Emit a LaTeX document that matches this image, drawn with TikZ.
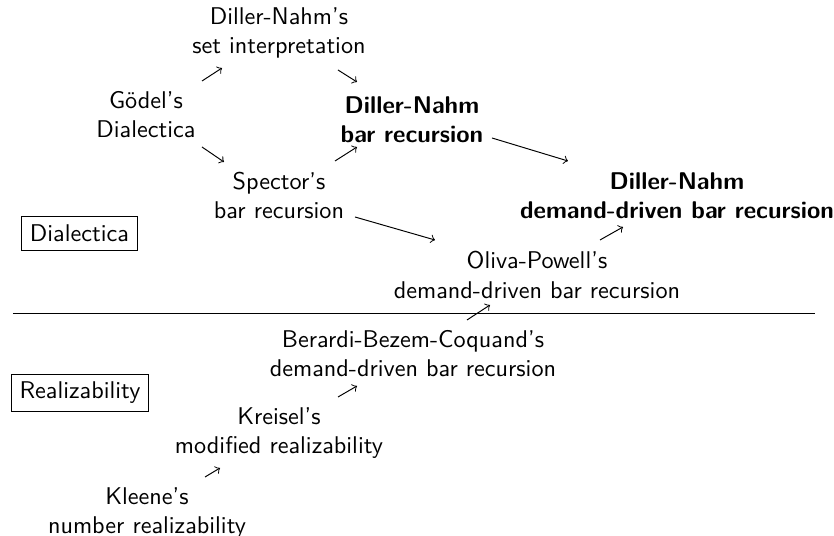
\documentclass[tikz,border=0pt]{standalone}
\usetikzlibrary{calc}
\begin{document}
\begin{tikzpicture}[x=0.4132pt,y=-0.4132pt,
  every node/.style={font=\sffamily},
  lbl/.style={align=center, inner sep=0pt},
  blbl/.style={align=center, inner sep=0pt, font=\sffamily\bfseries},
  boxlbl/.style={draw, inner sep=3.3pt},
  arr/.style={->, line width=0.4pt}]
\path[use as bounding box] (0,0) rectangle (834,536);
\node[lbl] (dns) at (279,33) {Diller-Nahm's\\set interpretation};
\node[lbl] (godel) at (146,115) {Gödel's\\Dialectica};
\node[blbl] (dnbar) at (412,120) {Diller-Nahm\\bar recursion};
\node[lbl] (spector) at (279,195) {Spector's\\bar recursion};
\node[blbl] (dndd) at (677,196) {Diller-Nahm\\demand-driven bar recursion};
\node[lbl] (op) at (537,275) {Oliva-Powell's\\demand-driven bar recursion};
\node[lbl] (bbc) at (413,354) {Berardi-Bezem-Coquand's\\demand-driven bar recursion};
\node[lbl] (kreisel) at (279,433) {Kreisel's\\modified realizability};
\node[lbl] (kleene) at (147,513) {Kleene's\\number realizability};
\node[boxlbl] (dial) at (79.5,233.5) {Dialectica};
\node[boxlbl] (real) at (80,393) {Realizability};
\coordinate (sepL) at (13,313);
\coordinate (sepR) at (815,313);
\draw[line width=0.4pt] (sepL) -- (sepR);
\draw[arr] ($(godel)+(56,-34)$) -- ($(dns)+(-57,35)$);
\draw[arr] ($(dns)+(59,37)$) -- ($(dnbar)+(-55,-38)$);
\draw[arr] ($(godel)+(56,32)$) -- ($(spector)+(-55,-33)$);
\draw[arr] ($(spector)+(56,-34)$) -- ($(dnbar)+(-55,27)$);
\draw[arr] ($(dnbar)+(80,18)$) -- ($(dndd)+(-109,-35)$);
\draw[arr] ($(spector)+(76,22)$) -- ($(op)+(-102,-35)$);
\draw[arr] ($(op)+(63,-35)$) -- ($(dndd)+(-54,31)$);
\draw[arr] ($(bbc)+(54,-34)$) -- ($(op)+(-47,30)$);
\draw[arr] ($(kreisel)+(59,-36)$) -- ($(bbc)+(-56,32)$);
\draw[arr] ($(kleene)+(58,-36)$) -- ($(kreisel)+(-59,35)$);
\end{tikzpicture}
\end{document}
